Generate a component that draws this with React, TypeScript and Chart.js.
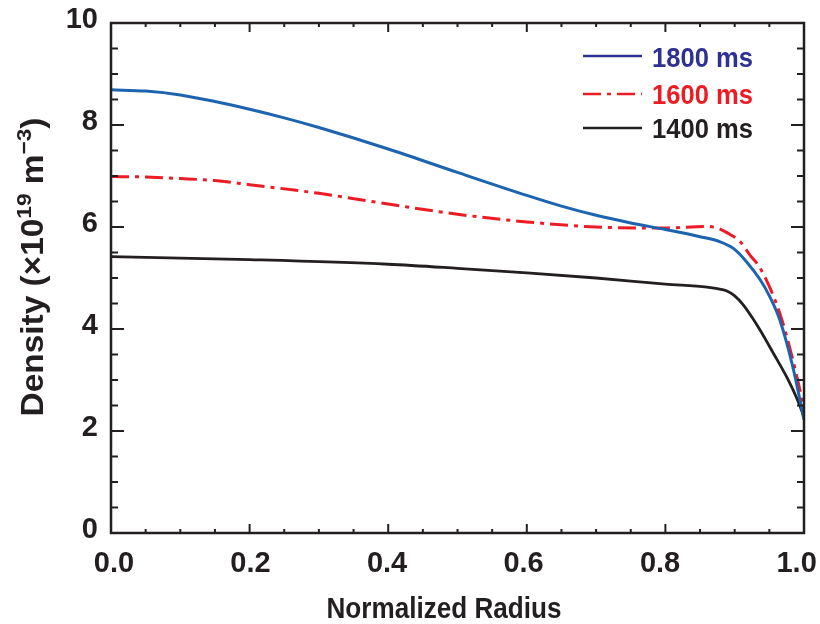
import React, { useEffect, useRef } from "react";
import { Chart, registerables } from "chart.js";

Chart.register(...registerables);

// ---- Data ----
const radius1800 = [0, 0.05, 0.1, 0.15, 0.2, 0.25, 0.3, 0.4, 0.5, 0.6, 0.65, 0.7, 0.75, 0.8, 0.85, 0.879, 0.898, 0.917, 0.937, 0.95, 0.965, 0.984, 1.0];
const density1800 = [8.69, 8.665, 8.59, 8.46, 8.31, 8.14, 7.95, 7.53, 7.07, 6.62, 6.41, 6.23, 6.08, 5.95, 5.81, 5.71, 5.58, 5.32, 4.96, 4.65, 4.18, 3.25, 2.22];

const radius1600 = [0, 0.05, 0.1, 0.15, 0.2, 0.3, 0.4, 0.5, 0.6, 0.7, 0.8, 0.86, 0.875, 0.89, 0.908, 0.922, 0.937, 0.965, 0.984, 1.0];
const density1600 = [6.99, 6.98, 6.95, 6.91, 6.83, 6.66, 6.45, 6.25, 6.1, 6.0, 5.98, 6.01, 5.98, 5.88, 5.71, 5.45, 5.19, 4.31, 3.39, 2.45];

const radius1400 = [0, 0.2, 0.4, 0.5, 0.6, 0.7, 0.8, 0.86, 0.875, 0.888, 0.9, 0.912, 0.925, 0.937, 0.956, 0.975, 0.99, 1.0];
const density1400 = [5.42, 5.36, 5.27, 5.19, 5.1, 5.0, 4.88, 4.82, 4.79, 4.75, 4.65, 4.48, 4.23, 3.97, 3.52, 3.06, 2.63, 2.28];

const seriesLabels = ["1800 ms", "1600 ms", "1400 ms"];
const xTickLabels = ["0.0", "0.2", "0.4", "0.6", "0.8", "1.0"];
const yTickLabels = ["0", "2", "4", "6", "8", "10"];

const X_MIN = 0, X_MAX = 1, X_MAJOR = 0.2, X_MINOR = 0.05;
const Y_MIN = 0, Y_MAX = 10, Y_MAJOR = 2, Y_MINOR = 0.5;

const FONT = "'Liberation Sans', Arial, Helvetica, sans-serif";
const INK = "#231f20";
const BLUE = "#1c63b0";
const BLUE_LEGEND = "#2e3192";
const RED = "#ed1c24";
const DASHDOT = [18, 6, 4, 6];

const toPoints = (xs: number[], ys: number[]) => xs.map((x, i) => ({ x, y: ys[i] }));

// draw text horizontally fitted to a target width (condensed look)
function fitText(ctx: CanvasRenderingContext2D, text: string, x: number, y: number, target: number, align: "left" | "center") {
  const w = ctx.measureText(text).width;
  const k = Math.min(1, target / w);
  ctx.save();
  ctx.translate(x, y);
  ctx.scale(k, 1);
  ctx.textAlign = align;
  ctx.fillText(text, 0, 0);
  ctx.restore();
}

const decorPlugin = {
  id: "decor",
  afterDraw(chart: any) {
    const { ctx, chartArea, scales } = chart;
    const { left, right, top, bottom } = chartArea;
    const xs = scales.x, ys = scales.y;
    ctx.save();
    ctx.strokeStyle = INK;
    ctx.lineCap = "butt";
    ctx.lineWidth = 2.5;
    ctx.strokeRect(left, top, right - left, bottom - top);
    ctx.lineWidth = 2;
    const line = (x1: number, y1: number, x2: number, y2: number) => {
      ctx.beginPath(); ctx.moveTo(x1, y1); ctx.lineTo(x2, y2); ctx.stroke();
    };
    const nx = Math.round((X_MAX - X_MIN) / X_MINOR);
    const perX = Math.round(X_MAJOR / X_MINOR);
    for (let i = 0; i <= nx; i++) {
      const px = xs.getPixelForValue(X_MIN + i * X_MINOR);
      const len = i % perX === 0 ? 9 : 4;
      line(px, bottom, px, bottom - len);
      line(px, top, px, top + len);
    }
    const ny = Math.round((Y_MAX - Y_MIN) / Y_MINOR);
    const perY = Math.round(Y_MAJOR / Y_MINOR);
    for (let i = 0; i <= ny; i++) {
      const py = ys.getPixelForValue(Y_MIN + i * Y_MINOR);
      const len = i % perY === 0 ? 13 : 7;
      line(left, py, left + len, py);
      line(right, py, right - len, py);
    }

    // x title
    ctx.fillStyle = INK;
    ctx.textBaseline = "alphabetic";
    ctx.font = `bold 30px ${FONT}`;
    fitText(ctx, "Normalized Radius", 444, 618, 235, "center");

    // y title with superscripts
    const big = `bold 31px ${FONT}`;
    const small = `bold 21px ${FONT}`;
    const segs: [string, string, number][] = [
      ["Density (\u00d710", big, 0],
      ["19", small, 12],
      [" m", big, 0],
      ["\u22123", small, 12],
      [")", big, 0],
    ];
    let total = 0;
    for (const [t, f] of segs) { ctx.font = f; total += ctx.measureText(t).width; }
    const k = 299 / total;
    ctx.save();
    ctx.translate(43, 267);
    ctx.rotate(-Math.PI / 2);
    ctx.scale(k, 1);
    ctx.textAlign = "left";
    let cx = -total / 2;
    for (const [t, f, raise] of segs) {
      ctx.font = f;
      ctx.fillText(t, cx, -raise);
      cx += ctx.measureText(t).width;
    }
    ctx.restore();

    // legend
    const items = [
      { label: seriesLabels[0], color: BLUE_LEGEND, dash: [] as number[], ly: 56, ty: 67 },
      { label: seriesLabels[1], color: RED, dash: DASHDOT, ly: 94, ty: 104 },
      { label: seriesLabels[2], color: INK, dash: [] as number[], ly: 128, ty: 138 },
    ];
    ctx.font = `bold 28px ${FONT}`;
    for (const it of items) {
      ctx.strokeStyle = it.color;
      ctx.lineWidth = 2.5;
      ctx.setLineDash(it.dash);
      line(583, it.ly, 642, it.ly);
      ctx.setLineDash([]);
      ctx.fillStyle = it.color;
      fitText(ctx, it.label, 652, it.ty, 101, "left");
    }
    ctx.restore();
  },
};

export default function App() {
  const ref = useRef<HTMLCanvasElement | null>(null);
  useEffect(() => {
    document.body.style.margin = "0";
    const canvas = ref.current!;
    const common = { borderWidth: 3, pointRadius: 0, cubicInterpolationMode: "monotone", fill: false };
    const chart = new Chart(canvas, {
      type: "line",
      data: {
        datasets: [
          { ...common, label: seriesLabels[0], data: toPoints(radius1800, density1800), borderColor: BLUE },
          { ...common, label: seriesLabels[1], data: toPoints(radius1600, density1600), borderColor: RED, borderDash: DASHDOT },
          { ...common, label: seriesLabels[2], data: toPoints(radius1400, density1400), borderColor: INK, borderWidth: 2.8 },
        ],
      },
      options: {
        animation: false,
        responsive: false,
        devicePixelRatio: 1,
        layout: { padding: { top: 23, right: 16, left: 0, bottom: 0 } },
        plugins: { legend: { display: false }, tooltip: { enabled: false } },
        scales: {
          x: {
            type: "linear",
            min: X_MIN,
            max: X_MAX,
            grid: { display: false, drawTicks: false },
            border: { display: false },
            afterFit: (s: any) => {
              s.height = 91;
              s.paddingLeft = 0;
              s.paddingRight = 0;
              if (!s._labelPatch) {
                const base = s.getPixelForTick.bind(s);
                // labels sit slightly inward of their ticks, as in the reference
                s.getPixelForTick = (i: number) => s.left + 3 + (base(i) - s.left) * 0.985;
                s._labelPatch = true;
              }
            },
            afterBuildTicks: (s: any) => {
              s.ticks = xTickLabels.map((_, i) => ({ value: X_MIN + i * X_MAJOR }));
            },
            ticks: {
              autoSkip: false,
              maxRotation: 0,
              padding: 14,
              color: INK,
              font: { family: FONT, size: 29, weight: "bold" },
              callback: (_v: any, i: number) => xTickLabels[i],
            },
          },
          y: {
            type: "linear",
            min: Y_MIN,
            max: Y_MAX,
            grid: { display: false, drawTicks: false },
            border: { display: false },
            afterFit: (s: any) => { s.width = 111; s.paddingTop = 0; s.paddingBottom = 0; },
            afterBuildTicks: (s: any) => {
              s.ticks = yTickLabels.map((_, i) => ({ value: Y_MIN + i * Y_MAJOR }));
            },
            ticks: {
              autoSkip: false,
              padding: 13,
              labelOffset: -3,
              color: INK,
              font: { family: FONT, size: 29, weight: "bold" },
              callback: (_v: any, i: number) => yTickLabels[i],
            },
          },
        },
      },
      plugins: [decorPlugin],
    } as any);
    return () => chart.destroy();
  }, []);
  return (
    <div style={{ width: 820, height: 624 }}>
      <canvas ref={ref} width={820} height={624} style={{ display: "block" }} />
    </div>
  );
}
